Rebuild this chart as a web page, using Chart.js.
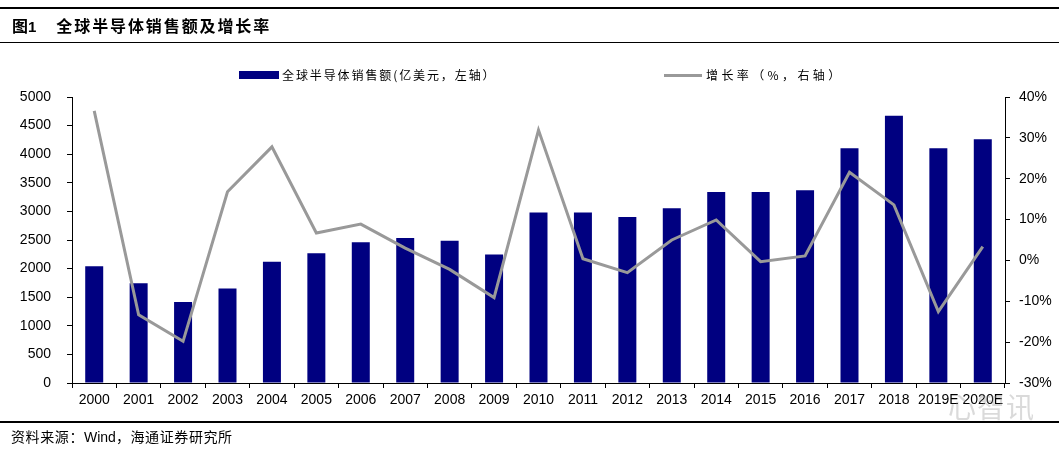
<!DOCTYPE html>
<html>
<head>
<meta charset="utf-8">
<script src="https://cdn.jsdelivr.net/npm/chart.js@4"></script>
<style>
  html, body { margin:0; padding:0; background:#fff; }
  body { width:1059px; height:456px; position:relative; overflow:hidden; font-family:"Liberation Sans", Arial, sans-serif; }
  #c { position:absolute; left:0; top:0; }
  .rule { position:absolute; left:0; width:1059px; background:#000; }
  .abs { position:absolute; white-space:nowrap; }
  #title { left:12px; top:15px; font-family:"Noto Sans CJK SC", sans-serif; font-weight:bold; font-size:16px; line-height:20px; color:#000; }
  #title .n { font-family:"Liberation Sans", Arial, sans-serif; font-size:15px; margin-right:20px; }
  #title .t { letter-spacing:1.9px; }
  #foot { left:11px; top:427px; font-family:"Noto Sans CJK SC", sans-serif; font-size:14px; line-height:18px; color:#000; letter-spacing:0.6px; }
  #foot .w { font-family:"Liberation Sans", Arial, sans-serif; letter-spacing:0; }
  .leg { font-family:"Noto Sans CJK SC", sans-serif; font-size:12px; line-height:16px; color:#000; }
  #wm { left:948px; top:386px; font-family:"Noto Sans CJK SC", sans-serif; font-size:28px; color:rgba(150,150,150,0.35); letter-spacing:1px; }
</style>
</head>
<body>
<canvas id="c" width="1059" height="456"></canvas>
<div class="rule" style="top:7px;height:1.5px;"></div>
<div class="rule" style="top:42px;height:1px;"></div>
<div class="rule" style="top:421px;height:1.5px;"></div>
<div id="title" class="abs"><span>图</span><span class="n">1</span><span class="t">全球半导体销售额及增长率</span></div>
<div class="abs" style="left:239px;top:71px;width:40px;height:8px;background:#000080;"></div>
<div class="abs leg" style="left:282px;top:67px;letter-spacing:1.9px;">全球半导体销售额(亿美元，左轴）</div>
<div class="abs" style="left:664px;top:74px;width:38px;height:3px;background:#999;"></div>
<div class="abs leg" style="left:706px;top:67px;letter-spacing:3.4px;">增长率（%，右轴）</div>
<div id="foot" class="abs">资料来源：<span class="w">Wind</span>，海通证券研究所</div>
<div id="wm" class="abs">心智讯</div>
<script>
const categories = ["2000","2001","2002","2003","2004","2005","2006","2007","2008","2009","2010","2011","2012","2013","2014","2015","2016","2017","2018","2019E","2020E"];
const salesValues = [2040, 1746, 1415, 1650, 2120, 2270, 2460, 2535, 2485, 2246, 2980, 2980, 2900, 3056, 3341, 3341, 3371, 4104, 4674, 4104, 4261];
const growthValues = [36.6, -13.3, -19.8, 16.8, 27.8, 6.7, 8.9, 3.0, -2.2, -9.1, 31.9, 0.4, -3.0, 5.0, 9.9, -0.3, 1.1, 21.6, 13.6, -12.5, 3.4];
const leftTicks = {min:0, max:5000, step:500};
const rightTicks = {min:-30, max:40, step:10};

const tickFont = {family:"Liberation Sans, Arial, sans-serif", size:14};

new Chart(document.getElementById('c'), {
  data: {
    labels: categories,
    datasets: [
      {
        type:'line', label:'增长率（%，右轴）', data: growthValues, yAxisID:'y1',
        borderColor:'#999999', borderWidth:3, pointRadius:0, tension:0, order:0
      },
      {
        type:'bar', label:'全球半导体销售额(亿美元，左轴）', data: salesValues, yAxisID:'y',
        backgroundColor:'#000080', borderWidth:0,
        categoryPercentage:1.0, barPercentage:0.405, order:1
      }
    ]
  },
  options: {
    responsive:false, animation:false,
    layout:{padding:{top:97, left:0, right:0, bottom:0}},
    plugins:{legend:{display:false}, tooltip:{enabled:false}},
    scales:{
      x:{
        offset:true,
        grid:{offset:true, drawOnChartArea:false, tickLength:5, color:'#000', lineWidth:1},
        border:{color:'#000', width:1},
        ticks:{font:tickFont, color:'#000', padding:4, autoSkip:false, maxRotation:0, minRotation:0},
        afterFit(s){ s.height = 73; }
      },
      y:{
        position:'left', min:leftTicks.min, max:leftTicks.max,
        grid:{drawOnChartArea:false, tickLength:5, color:'#000'},
        border:{color:'#000', width:1},
        ticks:{stepSize:leftTicks.step, font:tickFont, color:'#000', padding:16, callback:v=>String(v)},
        afterFit(s){ s.width = 72; }
      },
      y1:{
        position:'right', min:rightTicks.min, max:rightTicks.max,
        grid:{drawOnChartArea:false, tickLength:5, color:'#000'},
        border:{color:'#000', width:1},
        ticks:{stepSize:rightTicks.step, font:tickFont, color:'#000', padding:9, callback:v=>v+'%'},
        afterFit(s){ s.width = 54; }
      }
    }
  }
});
</script>
</body>
</html>
